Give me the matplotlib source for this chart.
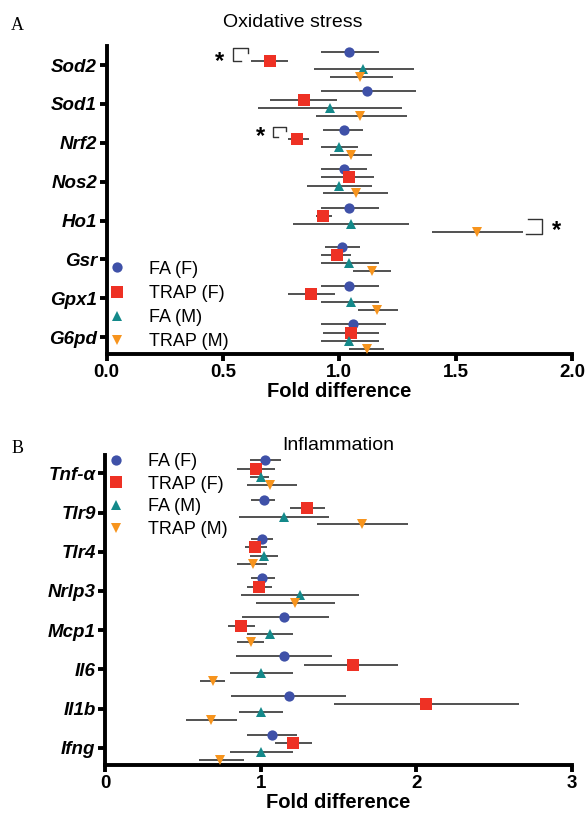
import numpy as np
import matplotlib
matplotlib.use("Agg")
import matplotlib.pyplot as plt
from matplotlib.lines import Line2D

plt.rcParams['font.family'] = ['Liberation Sans', 'DejaVu Sans']

# ---------------- data: oxidative stress ----------------
ox_genes = ['Sod2', 'Sod1', 'Nrf2', 'Nos2', 'Ho1', 'Gsr', 'Gpx1', 'G6pd']
ox_fa_f = [1.04, 1.12, 1.02, 1.02, 1.04, 1.01, 1.04, 1.06]
ox_fa_f_lo = [0.92, 0.92, 0.93, 0.92, 0.92, 0.94, 0.92, 0.92]
ox_fa_f_hi = [1.17, 1.33, 1.10, 1.12, 1.17, 1.09, 1.17, 1.20]
ox_trap_f = [0.70, 0.85, 0.82, 1.04, 0.93, 0.99, 0.88, 1.05]
ox_trap_f_lo = [0.62, 0.70, 0.78, 0.92, 0.90, 0.92, 0.78, 0.93]
ox_trap_f_hi = [0.78, 0.99, 0.87, 1.15, 0.97, 1.05, 0.98, 1.17]
ox_fa_m = [1.10, 0.96, 1.00, 1.00, 1.05, 1.04, 1.05, 1.04]
ox_fa_m_lo = [0.89, 0.65, 0.92, 0.86, 0.80, 0.92, 0.92, 0.92]
ox_fa_m_hi = [1.32, 1.27, 1.08, 1.14, 1.30, 1.17, 1.17, 1.17]
ox_trap_m = [1.09, 1.09, 1.05, 1.07, 1.59, 1.14, 1.16, 1.12]
ox_trap_m_lo = [0.96, 0.90, 0.96, 0.93, 1.40, 1.06, 1.08, 1.04]
ox_trap_m_hi = [1.23, 1.29, 1.14, 1.21, 1.79, 1.22, 1.25, 1.19]

# ---------------- data: inflammation ----------------
inf_genes = ['Tnf-α', 'Tlr9', 'Tlr4', 'Nrlp3', 'Mcp1', 'Il6', 'Il1b', 'Ifng']
inf_fa_f = [1.03, 1.02, 1.01, 1.01, 1.15, 1.15, 1.18, 1.07]
inf_fa_f_lo = [0.93, 0.94, 0.94, 0.94, 0.88, 0.84, 0.81, 0.91]
inf_fa_f_hi = [1.13, 1.09, 1.08, 1.09, 1.44, 1.46, 1.55, 1.23]
inf_trap_f = [0.97, 1.30, 0.96, 0.99, 0.87, 1.59, 2.06, 1.21]
inf_trap_f_lo = [0.85, 1.19, 0.90, 0.91, 0.79, 1.28, 1.47, 1.09]
inf_trap_f_hi = [1.09, 1.41, 1.04, 1.07, 0.96, 1.88, 2.66, 1.33]
inf_fa_m = [1.00, 1.15, 1.02, 1.25, 1.06, 1.00, 1.00, 1.00]
inf_fa_m_lo = [0.93, 0.86, 0.93, 0.87, 0.91, 0.80, 0.86, 0.80]
inf_fa_m_hi = [1.05, 1.44, 1.11, 1.63, 1.21, 1.21, 1.14, 1.21]
inf_trap_m = [1.06, 1.65, 0.95, 1.22, 0.94, 0.69, 0.68, 0.74]
inf_trap_m_lo = [0.91, 1.36, 0.85, 0.97, 0.85, 0.61, 0.52, 0.60]
inf_trap_m_hi = [1.23, 1.95, 1.04, 1.48, 1.02, 0.77, 0.85, 0.89]

groups = ['FA (F)', 'TRAP (F)', 'FA (M)', 'TRAP (M)']
colors = ['#3F51A8', '#EE3124', '#14898A', '#F7941D']
markers = ['o', 's', '^', 'v']
msizes = [7.4, 8.2, 7.8, 7.8]
offsets = [-0.33, -0.11, 0.10, 0.30]

SPINE = 2.8


def panel(ax, genes, series, xmax, xticks, xlabels, ylim):
    y = np.arange(len(genes))
    for i, (m, lo, hi) in enumerate(series):
        m = np.array(m)
        err = [m - np.array(lo), np.array(hi) - m]
        ax.errorbar(m, y + offsets[i], xerr=err, fmt=markers[i],
                    color=colors[i], ms=msizes[i], mew=0,
                    ecolor='#333333', elinewidth=1.2, capsize=3, capthick=1.2,
                    zorder=3 + i)
    ax.set_yticks(y)
    ax.set_yticklabels(genes, fontsize=13.5, fontweight='bold', style='italic')
    ax.set_ylim(*ylim)
    ax.set_xlim(0, xmax)
    ax.set_xticks(xticks)
    ax.set_xticklabels(xlabels, fontsize=13.5, fontweight='bold')
    ax.set_xlabel('Fold difference', fontsize=14.5, fontweight='bold', labelpad=1)
    for s in ['top', 'right']:
        ax.spines[s].set_visible(False)
    for s in ['left', 'bottom']:
        ax.spines[s].set_linewidth(SPINE)
    ax.tick_params(axis='both', width=SPINE, length=5, pad=2)


fig = plt.figure(figsize=(5.87, 8.16), dpi=100)
axA = fig.add_axes([0.1818, 0.5662, 0.7927, 0.3774])
axB = fig.add_axes([0.1794, 0.0625, 0.7946, 0.3799])

panel(axA, ox_genes,
      [(ox_fa_f, ox_fa_f_lo, ox_fa_f_hi), (ox_trap_f, ox_trap_f_lo, ox_trap_f_hi),
       (ox_fa_m, ox_fa_m_lo, ox_fa_m_hi), (ox_trap_m, ox_trap_m_lo, ox_trap_m_hi)],
      2.0, [0, 0.5, 1.0, 1.5, 2.0], ['0.0', '0.5', '1.0', '1.5', '2.0'], (7.43, -0.49))
panel(axB, inf_genes,
      [(inf_fa_f, inf_fa_f_lo, inf_fa_f_hi), (inf_trap_f, inf_trap_f_lo, inf_trap_f_hi),
       (inf_fa_m, inf_fa_m_lo, inf_fa_m_hi), (inf_trap_m, inf_trap_m_lo, inf_trap_m_hi)],
      3.0, [0, 1, 2, 3], ['0', '1', '2', '3'], (7.44, -0.47))

# titles
axA.text(0.40, 1.075, 'Oxidative stress', transform=axA.transAxes,
         ha='center', va='center', fontsize=14)
axB.text(0.50, 1.03, 'Inflammation', transform=axB.transAxes,
         ha='center', va='center', fontsize=14)

# panel letters
fig.text(17.5 / 587, 1 - 26 / 816, 'A', family='Liberation Serif',
         fontsize=13, ha='center', va='center')
fig.text(18 / 587, 1 - 448 / 816, 'B', family='Liberation Serif',
         fontsize=13, ha='center', va='center')

# legends
handles = [Line2D([], [], ls='none', marker=markers[i], color=colors[i],
                  ms=msizes[i], mew=0) for i in range(4)]
axA.legend(handles, groups, loc='lower left', bbox_to_anchor=(0.0034, 0.012),
           frameon=False, fontsize=13, handlelength=1.0, handletextpad=1.25,
           labelspacing=0.40, borderpad=0, borderaxespad=0)
axB.legend(handles, groups, loc='upper left', bbox_to_anchor=(0.0034, 1.006),
           frameon=False, fontsize=13, handlelength=1.0, handletextpad=1.25,
           labelspacing=0.31, borderpad=0, borderaxespad=0)

# significance brackets
br = dict(color='#333333', lw=1.0, clip_on=False, zorder=10)
axA.plot([0.609, 0.609, 0.544, 0.544, 0.577], [-0.31, -0.43, -0.43, -0.11, -0.11], **br)
axA.text(0.484, -0.08, '*', fontsize=17, fontweight='bold', ha='center', va='center')
axA.plot([0.771, 0.771, 0.713, 0.713, 0.737], [1.70, 1.60, 1.60, 1.86, 1.86], **br)
axA.text(0.659, 1.85, '*', fontsize=17, fontweight='bold', ha='center', va='center')
axA.plot([1.812, 1.869, 1.869, 1.802], [3.96, 3.96, 4.34, 4.34], **br)
axA.text(1.934, 4.26, '*', fontsize=17, fontweight='bold', ha='center', va='center',
         clip_on=False)

fig.savefig('out.png', dpi=100)
